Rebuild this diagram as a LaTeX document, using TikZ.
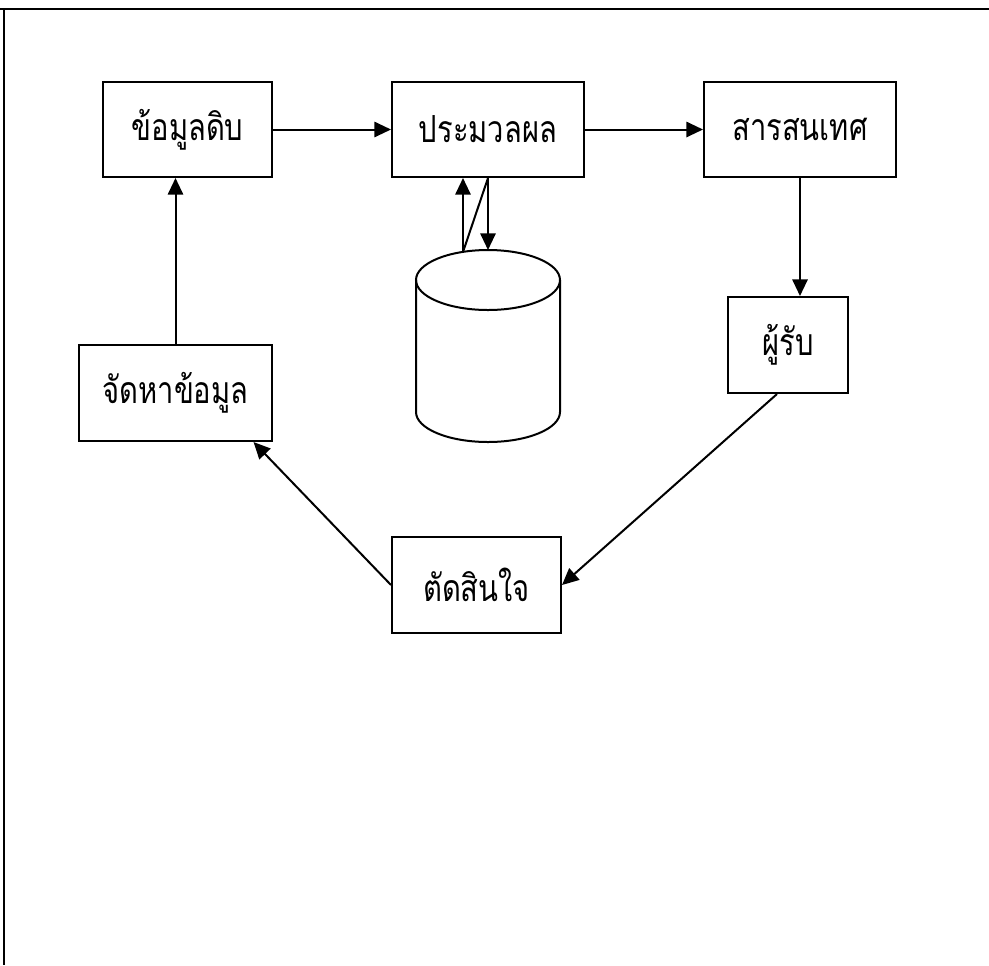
\documentclass[tikz,border=0pt]{standalone}
\usepackage{fontspec}
\newfontfamily\thaifont[Script=Thai,FakeStretch=0.78]{Loma}
\usetikzlibrary{arrows.meta,calc}
\begin{document}
\begin{tikzpicture}[x=0.75pt,y=-0.75pt,
  box/.style={draw,line width=1.5pt,rectangle,inner sep=0pt,
    font=\thaifont\fontsize{28}{32}\selectfont},
  conn/.style={line width=1.5pt},
  arr/.style={conn,-{Triangle[length=12.5pt,width=11.5pt]}}]
\fill[white] (0,0) rectangle (989,965);
\useasboundingbox (0,0) rectangle (989,965);
% frame
\coordinate (ftl) at (4,9);
\coordinate (ftr) at (989,9);
\coordinate (fbl) at (4,965);
\draw[line width=1.6pt] (0,9) -- (ftr);
\draw[line width=1.6pt] (ftl) -- (fbl);
% boxes
\node[box,minimum width=126.75pt,minimum height=71.25pt] (raw) at (187.5,129.5) {ข้อมูลดิบ};
\node[box,minimum width=144pt,minimum height=71.25pt] (proc) at (488,129.5) {ประมวลผล};
\node[box,minimum width=144pt,minimum height=71.25pt] (info) at (800,129.5) {สารสนเทศ};
\node[box,minimum width=90pt,minimum height=72pt] (recv) at (788,345) {ผู้รับ};
\node[box,minimum width=126.75pt,minimum height=72pt] (dec) at (476.5,585) {ตัดสินใจ};
\node[box,minimum width=144.75pt,minimum height=72pt] (supply) at (175.5,393) {จัดหาข้อมูล};
% database cylinder
\coordinate (dbc) at (488,280);
\draw[line width=1.5pt] (dbc) ellipse [x radius=54pt, y radius=22.5pt];
\draw[line width=1.5pt] (416,280) -- (416,412)
  arc[start angle=180,end angle=360,x radius=54pt,y radius=22.5pt] -- (560,280);
\coordinate (dbtop) at (488,250);
\coordinate (dbup) at (463,252);
% connectors
\draw[arr] (raw.east) -- (proc.west);
\draw[arr] (proc.east) -- (info.west);
\draw[arr] (info.south) -- (info.south |- recv.north);
\coordinate (recvout) at ($(recv.south west)!0.41!(recv.south east)$);
\draw[arr] (recvout) -- (dec.east);
\coordinate (supin) at ($(supply.south west)!0.9!(supply.south east)$);
\draw[arr] (dec.west) -- (supin);
\draw[arr] (supply.north) -- (supply.north |- raw.south);
\draw[arr] (proc.south) -- (dbtop);
\draw[arr] (dbup) -- (dbup |- proc.south);
\draw[conn] (dbup) -- (proc.south);
\end{tikzpicture}
\end{document}
